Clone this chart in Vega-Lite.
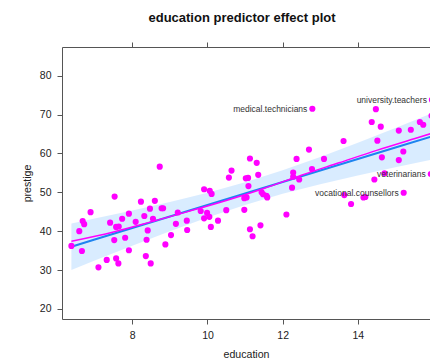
{
  "$schema": "https://vega.github.io/schema/vega-lite/v6.json",
  "autosize": {"type": "none"},
  "padding": {"left": 62, "top": 47, "right": 0, "bottom": 41},
  "width": 368,
  "height": 272,
  "title": {"text": "education predictor effect plot", "fontSize": 13, "fontWeight": "bold", "color": "#111", "anchor": "middle", "dx": -4, "offset": 17},
  "config": {
    "font": "Liberation Sans",
    "view": {"stroke": null},
    "axis": {"domainColor": "#555", "tickColor": "#555", "tickSize": 5, "labelFontSize": 10.5, "labelColor": "#222", "titleFontSize": 10.6, "titleFontWeight": "normal", "titleColor": "#222", "grid": false, "labelPadding": 6}
  },
  "datasets": {
    "pts": [
      {"education": 8.73, "prestige": 56.6, "label": ""},
      {"education": 7.53, "prestige": 48.9, "label": ""},
      {"education": 6.89, "prestige": 44.9, "label": ""},
      {"education": 6.68, "prestige": 42.6, "label": ""},
      {"education": 6.72, "prestige": 41.8, "label": ""},
      {"education": 6.59, "prestige": 40.0, "label": ""},
      {"education": 6.38, "prestige": 36.2, "label": ""},
      {"education": 6.66, "prestige": 34.9, "label": ""},
      {"education": 7.10, "prestige": 30.7, "label": ""},
      {"education": 7.32, "prestige": 32.6, "label": ""},
      {"education": 7.57, "prestige": 33.0, "label": ""},
      {"education": 7.63, "prestige": 31.7, "label": ""},
      {"education": 7.41, "prestige": 42.2, "label": ""},
      {"education": 7.52, "prestige": 37.7, "label": ""},
      {"education": 7.57, "prestige": 41.1, "label": ""},
      {"education": 7.64, "prestige": 41.2, "label": ""},
      {"education": 7.73, "prestige": 43.2, "label": ""},
      {"education": 7.81, "prestige": 38.3, "label": ""},
      {"education": 7.91, "prestige": 44.5, "label": ""},
      {"education": 7.91, "prestige": 35.1, "label": ""},
      {"education": 8.09, "prestige": 42.4, "label": ""},
      {"education": 8.23, "prestige": 47.6, "label": ""},
      {"education": 8.32, "prestige": 43.9, "label": ""},
      {"education": 8.47, "prestige": 45.8, "label": ""},
      {"education": 8.55, "prestige": 43.2, "label": ""},
      {"education": 8.60, "prestige": 47.8, "label": ""},
      {"education": 8.41, "prestige": 40.2, "label": ""},
      {"education": 8.38, "prestige": 37.8, "label": ""},
      {"education": 8.36, "prestige": 33.6, "label": ""},
      {"education": 8.49, "prestige": 31.7, "label": ""},
      {"education": 8.78, "prestige": 45.9, "label": ""},
      {"education": 8.82, "prestige": 45.9, "label": ""},
      {"education": 9.21, "prestige": 44.8, "label": ""},
      {"education": 9.16, "prestige": 41.9, "label": ""},
      {"education": 9.45, "prestige": 42.7, "label": ""},
      {"education": 9.46, "prestige": 40.3, "label": ""},
      {"education": 9.03, "prestige": 39.0, "label": ""},
      {"education": 8.88, "prestige": 36.6, "label": ""},
      {"education": 9.82, "prestige": 45.2, "label": ""},
      {"education": 9.91, "prestige": 50.8, "label": ""},
      {"education": 10.06, "prestige": 50.4, "label": ""},
      {"education": 10.11, "prestige": 49.6, "label": ""},
      {"education": 9.99, "prestige": 44.7, "label": ""},
      {"education": 10.05, "prestige": 43.7, "label": ""},
      {"education": 9.91, "prestige": 43.3, "label": ""},
      {"education": 10.09, "prestige": 41.1, "label": ""},
      {"education": 10.28, "prestige": 42.7, "label": ""},
      {"education": 10.50, "prestige": 45.4, "label": ""},
      {"education": 10.57, "prestige": 53.8, "label": ""},
      {"education": 10.64, "prestige": 55.6, "label": ""},
      {"education": 11.13, "prestige": 58.7, "label": ""},
      {"education": 11.31, "prestige": 57.6, "label": ""},
      {"education": 11.35, "prestige": 54.5, "label": ""},
      {"education": 11.02, "prestige": 53.6, "label": ""},
      {"education": 11.08, "prestige": 53.7, "label": ""},
      {"education": 11.09, "prestige": 51.6, "label": ""},
      {"education": 10.98, "prestige": 48.5, "label": ""},
      {"education": 11.04, "prestige": 48.7, "label": ""},
      {"education": 10.98, "prestige": 45.5, "label": ""},
      {"education": 11.13, "prestige": 40.5, "label": ""},
      {"education": 11.20, "prestige": 38.7, "label": ""},
      {"education": 11.41, "prestige": 41.5, "label": ""},
      {"education": 11.44, "prestige": 50.0, "label": ""},
      {"education": 11.48, "prestige": 49.5, "label": ""},
      {"education": 11.57, "prestige": 49.1, "label": ""},
      {"education": 11.59, "prestige": 48.7, "label": ""},
      {"education": 12.10, "prestige": 44.3, "label": ""},
      {"education": 12.25, "prestige": 51.2, "label": ""},
      {"education": 12.28, "prestige": 55.1, "label": ""},
      {"education": 12.28, "prestige": 54.0, "label": ""},
      {"education": 12.44, "prestige": 53.3, "label": ""},
      {"education": 12.37, "prestige": 58.6, "label": ""},
      {"education": 12.78, "prestige": 56.0, "label": ""},
      {"education": 12.70, "prestige": 61.0, "label": ""},
      {"education": 13.10, "prestige": 58.6, "label": ""},
      {"education": 12.79, "prestige": 71.5, "label": "medical.technicians"},
      {"education": 13.62, "prestige": 63.2, "label": ""},
      {"education": 13.64, "prestige": 49.3, "label": ""},
      {"education": 13.82, "prestige": 47.0, "label": ""},
      {"education": 14.15, "prestige": 48.7, "label": ""},
      {"education": 14.20, "prestige": 48.8, "label": ""},
      {"education": 14.44, "prestige": 53.3, "label": ""},
      {"education": 14.71, "prestige": 54.9, "label": ""},
      {"education": 14.64, "prestige": 59.0, "label": ""},
      {"education": 15.09, "prestige": 58.3, "label": ""},
      {"education": 15.21, "prestige": 60.5, "label": ""},
      {"education": 15.22, "prestige": 49.9, "label": "vocational.counsellors"},
      {"education": 14.48, "prestige": 71.4, "label": ""},
      {"education": 14.37, "prestige": 68.1, "label": ""},
      {"education": 14.61, "prestige": 66.9, "label": ""},
      {"education": 14.52, "prestige": 63.3, "label": ""},
      {"education": 15.09, "prestige": 65.9, "label": ""},
      {"education": 15.41, "prestige": 66.1, "label": ""},
      {"education": 15.65, "prestige": 68.1, "label": ""},
      {"education": 15.74, "prestige": 67.4, "label": ""},
      {"education": 15.96, "prestige": 69.7, "label": ""},
      {"education": 15.94, "prestige": 54.7, "label": "veterinarians"},
      {"education": 15.97, "prestige": 73.8, "label": "university.teachers"}
    ],
    "fit": [
      {"education": 6.38, "fit": 36.0, "lower": 30.02, "upper": 41.98},
      {"education": 7, "fit": 37.84, "lower": 32.43, "upper": 43.25},
      {"education": 8, "fit": 40.80, "lower": 36.27, "upper": 45.33},
      {"education": 9, "fit": 43.76, "lower": 40.00, "upper": 47.52},
      {"education": 10, "fit": 46.72, "lower": 43.54, "upper": 49.90},
      {"education": 11, "fit": 49.68, "lower": 46.77, "upper": 52.59},
      {"education": 12, "fit": 52.64, "lower": 49.61, "upper": 55.67},
      {"education": 13, "fit": 55.60, "lower": 52.10, "upper": 59.10},
      {"education": 14, "fit": 58.56, "lower": 54.36, "upper": 62.76},
      {"education": 15, "fit": 61.52, "lower": 56.48, "upper": 66.56},
      {"education": 15.97, "fit": 64.39, "lower": 58.45, "upper": 70.33}
    ],
    "smooth": [
      {"education": 6.38, "prestige": 37.4},
      {"education": 7.5, "prestige": 39.8},
      {"education": 8.5, "prestige": 42.4},
      {"education": 9.5, "prestige": 45.1},
      {"education": 10.5, "prestige": 47.9},
      {"education": 11.5, "prestige": 51.0},
      {"education": 12.5, "prestige": 54.4},
      {"education": 13.5, "prestige": 57.6},
      {"education": 14.5, "prestige": 60.8},
      {"education": 15.5, "prestige": 63.8},
      {"education": 15.97, "prestige": 65.2}
    ]
  },
  "resolve": {"axis": {"x": "independent", "y": "independent"}},
  "layer": [
    {
      "data": {"name": "fit"},
      "mark": {"type": "area", "color": "#0080FF", "opacity": 0.15},
      "encoding": {
        "x": {"field": "education", "type": "quantitative", "scale": {"domain": [6.13, 15.92], "nice": false, "zero": false},
              "axis": {"orient": "bottom", "values": [8, 10, 12, 14], "title": "education", "titlePadding": 9}},
        "y": {"field": "lower", "type": "quantitative", "scale": {"domain": [17.4, 87.4], "nice": false, "zero": false},
              "axis": {"orient": "left", "values": [20, 30, 40, 50, 60, 70, 80], "title": "prestige", "titlePadding": 7}},
        "y2": {"field": "upper"}
      }
    },
    {
      "data": {"name": "fit"},
      "mark": {"type": "line", "color": "#1E84F0", "strokeWidth": 2},
      "encoding": {
        "x": {"field": "education", "type": "quantitative", "axis": {"orient": "top", "values": [8, 10, 12, 14], "labels": false, "title": null}},
        "y": {"field": "fit", "type": "quantitative", "axis": null}
      }
    },
    {
      "data": {"name": "pts"},
      "mark": {"type": "circle", "color": "#FF00FF", "opacity": 1, "size": 38},
      "encoding": {
        "x": {"field": "education", "type": "quantitative", "axis": null},
        "y": {"field": "prestige", "type": "quantitative", "axis": null}
      }
    },
    {
      "data": {"name": "smooth"},
      "mark": {"type": "line", "color": "#FF00FF", "strokeWidth": 1.5, "interpolate": "monotone"},
      "encoding": {
        "x": {"field": "education", "type": "quantitative", "axis": null},
        "y": {"field": "prestige", "type": "quantitative", "axis": null}
      }
    },
    {
      "data": {"name": "pts"},
      "transform": [{"filter": "datum.label != ''"}],
      "mark": {"type": "text", "align": "right", "baseline": "middle", "dx": -5, "fontSize": 8.5, "color": "#333"},
      "encoding": {
        "x": {"field": "education", "type": "quantitative", "axis": null},
        "y": {"field": "prestige", "type": "quantitative", "axis": null},
        "text": {"field": "label"}
      }
    }
  ]
}
